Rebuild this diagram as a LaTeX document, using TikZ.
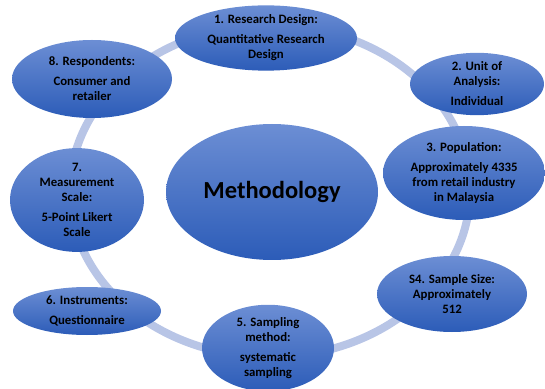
\documentclass[tikz,border=0pt]{standalone}
\usepackage{fontspec}
\setmainfont{Carlito}
\usetikzlibrary{shapes.geometric}

\definecolor{ringblue}{RGB}{184,197,230}
\definecolor{topblue}{RGB}{108,142,212}
\definecolor{botblue}{RGB}{44,92,184}

\begin{document}
\begin{tikzpicture}[
    x=1pt, y=1pt,
    every node/.style={align=center, font=\fontsize{12.8}{15}\selectfont\bfseries},
    ring/.style={draw=ringblue, line width=8pt},
    topic/.style={ellipse, inner sep=0pt, top color=topblue, bottom color=botblue, draw=none}
]
\useasboundingbox (0,0) rectangle (545,388);
\draw[ring] (270,197) ellipse (200 and 166);

\node[topic, minimum width=212, minimum height=136, font=\fontsize{24.5}{28}\selectfont\bfseries] (meth) at (272,196) {Methodology};
\node[topic, minimum width=182, minimum height=64] (rd) at (266,350) {1. Research Design:\\[5pt] Quantitative Research\\ Design};
\node[topic, minimum width=134, minimum height=62] (ua) at (477,304) {2. Unit of\\ Analysis:\\[5pt] Individual};
\node[topic, minimum width=162, minimum height=94] (pop) at (464,215) {3. Population:\\[5pt] Approximately 4335\\ from retail industry\\ in Malaysia};
\node[topic, minimum width=150, minimum height=76] (ss) at (452,94) {S4. Sample Size:\\ Approximately\\ 512};
\node[topic, minimum width=132, minimum height=80] (sm) at (268,40) {5. Sampling\\ method:\\[5pt] systematic\\ sampling};
\node[topic, minimum width=148, minimum height=48] (ins) at (87,77) {6. Instruments:\\[5pt] Questionnaire};
\node[topic, minimum width=134, minimum height=94] (ms) at (77,188) {7.\\ Measurement\\ Scale:\\[5pt] 5-Point Likert\\ Scale};
\node[topic, minimum width=160, minimum height=78] (resp) at (92,309) {8. Respondents:\\[5pt] Consumer and\\ retailer};
\end{tikzpicture}
\end{document}
